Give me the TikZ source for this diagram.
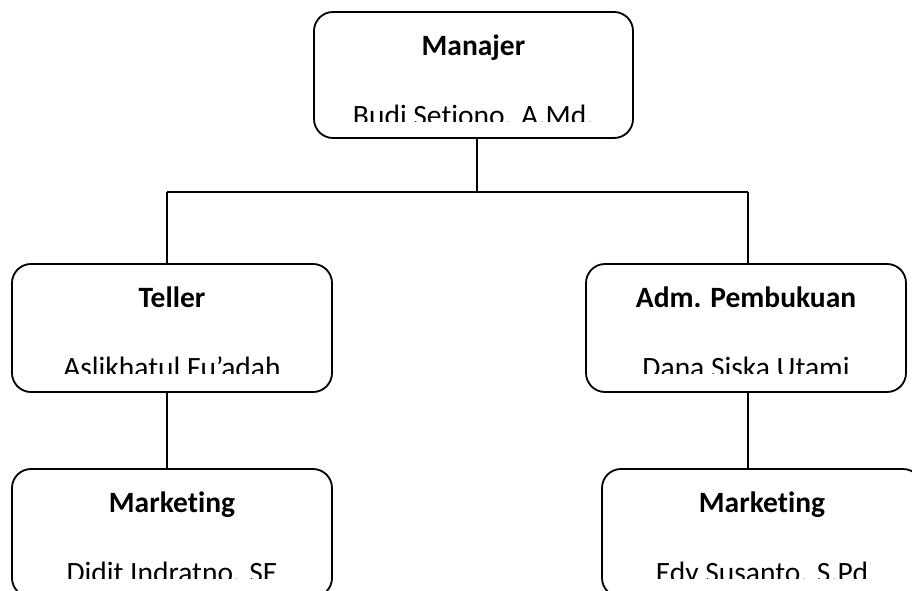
\documentclass[tikz,border=0pt]{standalone}
\usepackage{fontspec}
\setmainfont[Ligatures=NoCommon]{Carlito}
\usetikzlibrary{calc}
\tikzset{
  orgbox/.style={draw=black, line width=1.8pt, rounded corners=19pt, minimum width=320pt, minimum height=128pt, inner sep=0pt},
  titletext/.style={anchor=base, inner sep=0pt, font=\fontsize{29.5}{35}\selectfont\bfseries},
  nametext/.style={anchor=base, inner sep=0pt, font=\fontsize{29.5}{35}\selectfont},
  conn/.style={draw=black, line width=1.8pt}
}
\newcommand{\boxtexts}[3]{%
  \node[titletext] (#1t) at ($(#1.north)+(0,44)$) {#2};
  \begin{scope}
    \clip ($(#1.north west)+(0,-2)$) rectangle ($(#1.north east)+(0,110)$);
    \node[nametext] (#1n) at ($(#1.north)+(0,114.5)$) {#3};
  \end{scope}
}
\begin{document}
\begin{tikzpicture}[x=1pt,y=-1pt]
  \useasboundingbox (0,0) rectangle (912,591);
  \fill[white] (0,0) rectangle (912,591);
  \clip (0,0) rectangle (912,591);
  \node[orgbox, minimum width=319pt, minimum height=126pt] (man) at (473.5,75) {};
  \node[orgbox] (tel) at (172,328) {};
  \node[orgbox] (adm) at (746,328) {};
  \node[orgbox] (mk1) at (172,533) {};
  \node[orgbox] (mk2) at (762,533) {};
  \boxtexts{man}{Manajer}{Budi Setiono. A.Md.}
  \boxtexts{tel}{Teller}{Aslikhatul Fu’adah}
  \boxtexts{adm}{Adm. Pembukuan}{Dana Siska Utami}
  \boxtexts{mk1}{Marketing}{Didit Indratno. SE}
  \boxtexts{mk2}{Marketing}{Edy Susanto. S.Pd}
  \coordinate (jm) at (477,192);
  \coordinate (jl) at (167,192);
  \coordinate (jr) at (748,192);
  \draw[conn] (jm |- man.south) -- (jm);
  \draw[conn] (jl) -- (jr);
  \draw[conn] (jl) -- (jl |- tel.north);
  \draw[conn] (jr) -- (jr |- adm.north);
  \draw[conn] (jl |- tel.south) -- (jl |- mk1.north);
  \draw[conn] (jr |- adm.south) -- (jr |- mk2.north);
\end{tikzpicture}
\end{document}
